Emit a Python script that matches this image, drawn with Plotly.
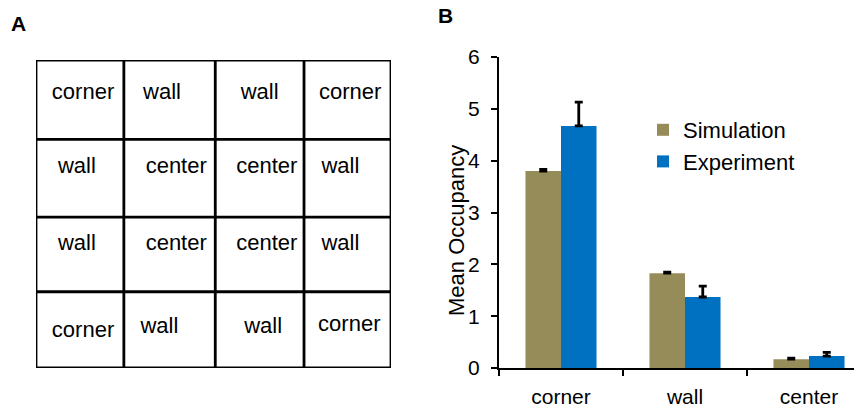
import plotly.graph_objects as go

# ---------------- data ----------------
categories = ["corner", "wall", "center"]
simulation = [3.80, 1.83, 0.17]
simulation_err = [0.03, 0.02, 0.02]
experiment = [4.67, 1.37, 0.23]
experiment_err = [0.46, 0.21, 0.07]
y_ticks = [0, 1, 2, 3, 4, 5, 6]
y_title = "Mean Occupancy"

# panel A: arena grid labels (grid units, 4x4 arena)
grid_labels = ["corner", "wall", "wall", "corner",
               "wall", "center", "center", "wall",
               "wall", "center", "center", "wall",
               "corner", "wall", "wall", "corner"]
grid_label_x = [0.53, 1.42, 2.52, 3.54,
                0.46, 1.58, 2.60, 3.43,
                0.46, 1.58, 2.60, 3.43,
                0.53, 1.39, 2.56, 3.53]
grid_label_y = [3.56, 3.56, 3.56, 3.56,
                2.61, 2.61, 2.61, 2.61,
                1.60, 1.60, 1.60, 1.60,
                0.47, 0.53, 0.53, 0.55]
col_edges = [0, 0.99, 2.02, 3.02, 4]
row_edges = [0, 0.99, 1.96, 2.97, 4]

FONT = "Liberation Sans, Arial, sans-serif"
W, H = 854, 408

fig = go.Figure()

fig.add_trace(go.Bar(
    name="Simulation", x=categories, y=simulation,
    marker=dict(color="#968C5A", line=dict(width=0)),
    error_y=dict(type="data", array=simulation_err, arrayminus=[0]*3, symmetric=False,
                 color="black", thickness=2.8, width=4),
    xaxis="x", yaxis="y"))
fig.add_trace(go.Bar(
    name="Experiment", x=categories, y=experiment,
    marker=dict(color="#0070C0", line=dict(width=0)),
    error_y=dict(type="data", array=experiment_err, arrayminus=[0]*3, symmetric=False,
                 color="black", thickness=2.8, width=4),
    xaxis="x", yaxis="y"))

# panel A text
fig.add_trace(go.Scatter(
    x=grid_label_x, y=grid_label_y, text=grid_labels, mode="text",
    textfont=dict(family=FONT, size=22, color="black"),
    showlegend=False, hoverinfo="skip", xaxis="x2", yaxis="y2",
    cliponaxis=False))

shapes = []
for c in col_edges:
    shapes.append(dict(type="line", xref="x2", yref="y2", x0=c, x1=c,
                       y0=row_edges[0], y1=row_edges[-1],
                       line=dict(color="black", width=2.8)))
for r in row_edges:
    shapes.append(dict(type="line", xref="x2", yref="y2", y0=r, y1=r,
                       x0=col_edges[0], x1=col_edges[-1],
                       line=dict(color="black", width=2.8)))

fig.update_layout(
    width=W, height=H,
    margin=dict(l=0, r=0, t=0, b=0, pad=0, autoexpand=False),
    paper_bgcolor="white", plot_bgcolor="white",
    font=dict(family=FONT, color="black", size=21),
    barmode="group", bargap=0.427, bargroupgap=0,
    showlegend=True,
    legend=dict(x=643/W, y=1-109/H, xanchor="left", yanchor="top",
                font=dict(size=22, family=FONT), bgcolor="rgba(0,0,0,0)",
                itemwidth=30, tracegroupgap=0),
    xaxis=dict(domain=[499/W, 1.0], range=[-0.5, 2.363], type="category",
               showline=True, linecolor="black", linewidth=2,
               ticks="outside", tickson="boundaries", ticklen=6, tickwidth=2,
               tickcolor="black", tickfont=dict(size=21), showgrid=False,
               zeroline=False, ticklabelstandoff=9, fixedrange=True,
               automargin=False),
    yaxis=dict(domain=[40/H, 351/H], range=[0, 6], tickvals=y_ticks,
               showline=True, linecolor="black", linewidth=2,
               ticks="outside", ticklen=6, tickwidth=2, tickcolor="black",
               tickfont=dict(size=21), showgrid=False, zeroline=False,
               ticklabelstandoff=7, automargin=False, fixedrange=True),
    xaxis2=dict(domain=[36/W, 391/W], range=[0, 4], visible=False, anchor="y2",
                fixedrange=True, automargin=False),
    yaxis2=dict(domain=[40/H, 348/H], range=[0, 4], visible=False, anchor="x2",
                fixedrange=True, automargin=False),
    shapes=shapes,
    annotations=[
        dict(text="<b>A</b>", x=9/W, y=1-23/H, xref="paper", yref="paper",
             xanchor="left", yanchor="middle", showarrow=False,
             font=dict(size=21, family=FONT)),
        dict(text="<b>B</b>", x=436/W, y=1-16/H, xref="paper", yref="paper",
             xanchor="left", yanchor="middle", showarrow=False,
             font=dict(size=21, family=FONT)),
        dict(text=y_title, x=456/W, y=1-231/H, xref="paper", yref="paper",
             xanchor="center", yanchor="middle", textangle=-90, showarrow=False,
             font=dict(size=22, family=FONT)),
    ],
)

fig.write_html("out.html")
